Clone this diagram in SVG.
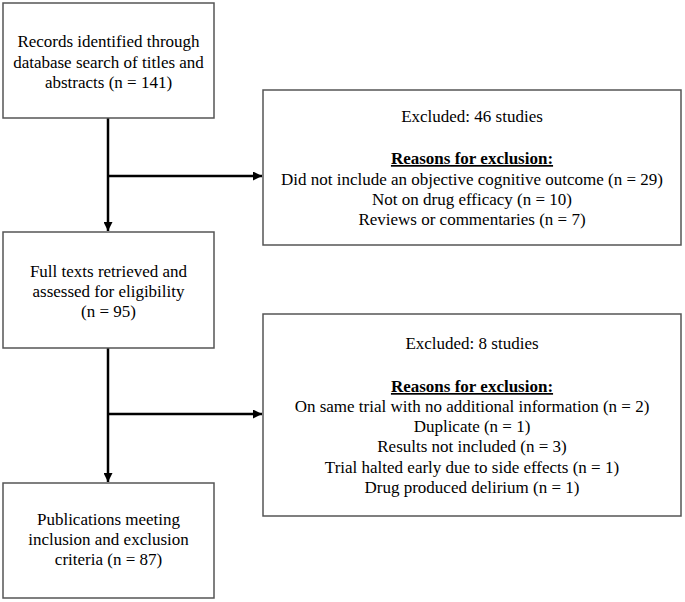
<svg xmlns="http://www.w3.org/2000/svg" width="685" height="602" viewBox="0 0 685 602">
<defs>
<marker id="ah" markerWidth="9" markerHeight="9" refX="9" refY="4.5" orient="auto" markerUnits="userSpaceOnUse">
<path d="M0,0 L9,4.5 L0,9 Z" fill="#000"/>
</marker>
<style>
.box{fill:#fff;stroke:#555;stroke-width:1.5}
.t{font-family:"Liberation Serif","Times New Roman",serif;font-size:17px;fill:#000;text-anchor:middle}
.b{font-weight:bold;text-decoration:underline}
.c{fill:none;stroke:#000;stroke-width:2.5}
</style>
</defs>
<rect width="685" height="602" fill="#fff"/>
<g id="connectors">
<path class="c" d="M108,118 V231" marker-end="url(#ah)"/>
<path class="c" d="M108,176 H262" marker-end="url(#ah)"/>
<path class="c" d="M108,348 V482" marker-end="url(#ah)"/>
<path class="c" d="M108,414 H262" marker-end="url(#ah)"/>
</g>
<g id="records">
<rect class="box" x="3" y="3" width="211" height="115"/>
<text class="t" x="108.5" y="47">Records identified through</text>
<text class="t" x="108.5" y="68">database search of titles and</text>
<text class="t" x="108.5" y="88">abstracts (n = 141)</text>
</g>
<g id="excluded1">
<rect class="box" x="263" y="90" width="418" height="155"/>
<text class="t" x="472" y="122">Excluded: 46 studies</text>
<text class="t b" x="472" y="164">Reasons for exclusion:</text>
<text class="t" x="472" y="185">Did not include an objective cognitive outcome (n = 29)</text>
<text class="t" x="472" y="205">Not on drug efficacy (n = 10)</text>
<text class="t" x="472" y="225">Reviews or commentaries (n = 7)</text>
</g>
<g id="fulltexts">
<rect class="box" x="3" y="232" width="211" height="116"/>
<text class="t" x="108.5" y="277">Full texts retrieved and</text>
<text class="t" x="108.5" y="297">assessed for eligibility</text>
<text class="t" x="108.5" y="317">(n = 95)</text>
</g>
<g id="excluded2">
<rect class="box" x="263" y="314" width="418" height="202"/>
<text class="t" x="472" y="349">Excluded: 8 studies</text>
<text class="t b" x="472" y="392">Reasons for exclusion:</text>
<text class="t" x="472" y="412">On same trial with no additional information (n = 2)</text>
<text class="t" x="472" y="432">Duplicate (n = 1)</text>
<text class="t" x="472" y="452">Results not included (n = 3)</text>
<text class="t" x="472" y="473">Trial halted early due to side effects (n = 1)</text>
<text class="t" x="472" y="493">Drug produced delirium (n = 1)</text>
</g>
<g id="publications">
<rect class="box" x="3" y="483" width="211" height="115"/>
<text class="t" x="108.5" y="525">Publications meeting</text>
<text class="t" x="108.5" y="545">inclusion and exclusion</text>
<text class="t" x="108.5" y="565">criteria (n = 87)</text>
</g>
</svg>
